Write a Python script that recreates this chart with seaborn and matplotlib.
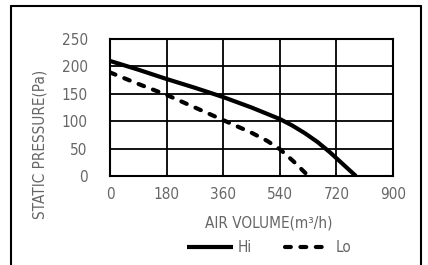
import matplotlib
matplotlib.use("Agg")
import matplotlib.pyplot as plt
import seaborn as sns
import pandas as pd
from matplotlib.lines import Line2D

hi_x = [0, 90, 180, 270, 360, 450, 540, 580, 620, 660, 700, 740, 782]
hi_y = [210, 194, 177, 161, 144, 125, 104, 92, 78, 62, 43, 22, 0]
lo_x = [0, 90, 180, 270, 360, 450, 500, 540, 583, 631]
lo_y = [189, 168, 148, 125, 102, 79, 64, 49, 27, 0]
x_ticks = [0, 180, 360, 540, 720, 900]
y_ticks = [0, 50, 100, 150, 200, 250]
series = ["Hi", "Lo"]

df = pd.concat([
    pd.DataFrame({"x": hi_x, "y": hi_y, "s": series[0]}),
    pd.DataFrame({"x": lo_x, "y": lo_y, "s": series[1]}),
])

sns.set_style("white")
plt.rcParams['font.family'] = ['DejaVu Sans']
plt.rcParams['font.stretch'] = 'condensed'
grey = "#666666"
FS = 11

W, H = 428, 265
fig = plt.figure(figsize=(W / 100, H / 100), dpi=100)
ax = fig.add_axes([110 / W, 1 - 176 / H, 283 / W, 137 / H])

DASH = (1.4, 2.3)
sns.lineplot(data=df, x="x", y="y", hue="s", style="s",
             palette={"Hi": "black", "Lo": "black"},
             dashes={"Hi": "", "Lo": DASH}, linewidth=3,
             sort=False, legend=False, ax=ax, estimator=None)
for l in ax.lines:
    l.set_dash_capstyle("round")
    l.set_solid_capstyle("butt")
    l.set_solid_joinstyle("round")

ax.set_xlim(0, 900)
ax.set_ylim(0, 250)
ax.set_xticks(x_ticks)
ax.set_yticks(y_ticks)
ax.grid(True, color="black", linewidth=1.3)
for sp in ax.spines.values():
    sp.set_visible(True)
    sp.set_color("black")
    sp.set_linewidth(1.5)
ax.tick_params(axis="both", length=0, labelsize=FS, labelcolor=grey)
ax.tick_params(axis="y", pad=16)
ax.tick_params(axis="x", pad=8)
ax.set_xlabel("AIR VOLUME(m³/h)", fontsize=FS, color=grey)
ax.xaxis.set_label_coords((269 - 110) / 283, -(216 - 176) / 137)
ax.set_ylabel("")
fig.text(40 / W, 1 - 144 / H, "STATIC PRESSURE(Pa)", rotation=90, fontsize=FS,
         color=grey, ha="center", va="center")

# legend
handles = [Line2D([], [], color="black", lw=3, solid_capstyle="butt"),
           Line2D([], [], color="black", lw=3, dashes=DASH, dash_capstyle="round")]
leg = fig.legend(handles, series, loc="center", bbox_to_anchor=(269 / W, 1 - 248 / H),
                 ncol=2, frameon=False, fontsize=FS, handlelength=3.0,
                 handletextpad=0.3, columnspacing=2.2, borderaxespad=0, borderpad=0)
for t in leg.get_texts():
    t.set_color(grey)

# outer frame
fig.add_artist(Line2D([11 / W, 11 / W], [0, 1 - 6 / H], color="black", lw=1.5))
fig.add_artist(Line2D([11 / W, 421 / W], [1 - 6 / H, 1 - 6 / H], color="black", lw=1.5))
fig.add_artist(Line2D([421 / W, 421 / W], [0, 1 - 6 / H], color="black", lw=1.5))

fig.savefig("out.png", dpi=100)
